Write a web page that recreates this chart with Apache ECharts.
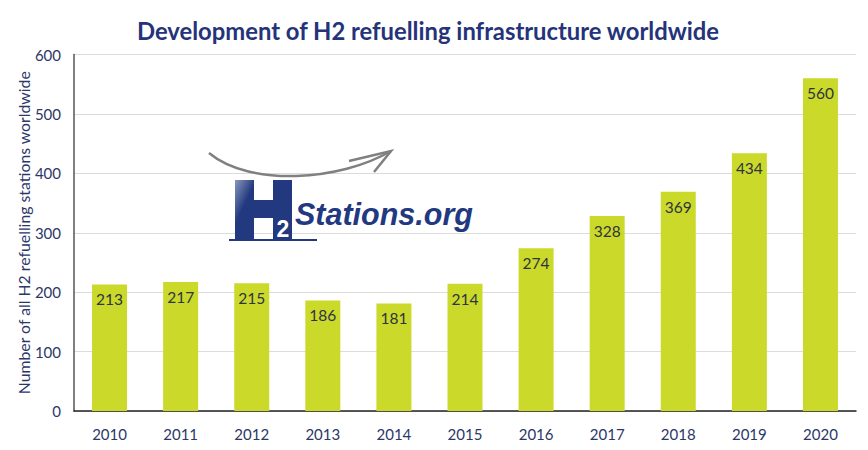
<!DOCTYPE html>
<html>
<head>
    <meta charset="utf-8">
    <title>H2 stations</title>
    <script src="https://cdn.jsdelivr.net/npm/echarts@6/dist/echarts.min.js"></script>
    <style>html,body{margin:0;padding:0;background:#fff}</style>
</head>
<body>
    <div id="chartmain" style="width:868px; height:450px;"></div>
    <script type="text/javascript">
        var years = ['2010', '2011', '2012', '2013', '2014', '2015', '2016', '2017', '2018', '2019', '2020'];
        var stations = [213, 217, 215, 186, 181, 214, 274, 328, 369, 434, 560];
        var titleText = 'Development of H2 refuelling infrastructure worldwide';
        var yAxisName = 'Number of all H2 refuelling stations worldwide';

        var navy = '#2b3768';
        var myChart = echarts.init(document.getElementById('chartmain'), null, { renderer: 'svg' });
        myChart.setOption({
            animation: false,
            textStyle: { fontFamily: 'Lato' },
            title: {
                text: titleText,
                left: 423,
                top: 14,
                textAlign: 'center',
                textStyle: { fontFamily: 'Lato', fontSize: 23.8, fontWeight: 'bold', color: '#25337a' }
            },
            grid: { left: 74, right: 12, top: 54.5, bottom: 39 },
            xAxis: {
                type: 'category',
                data: years,
                axisLine: { lineStyle: { color: '#222', width: 1.5 } },
                axisTick: { show: false },
                axisLabel: { color: navy, fontSize: 15, margin: 15 }
            },
            yAxis: {
                type: 'value',
                min: 0,
                max: 600,
                interval: 100,
                name: yAxisName,
                nameLocation: 'middle',
                nameGap: 43,
                nameMoveOverlap: false,
                nameTextStyle: { color: navy, fontSize: 15.8 },
                axisLine: { show: true, lineStyle: { color: '#555', width: 1.5 } },
                axisTick: { show: false },
                axisLabel: { color: navy, fontSize: 15, margin: 13 },
                splitLine: { lineStyle: { color: '#dcdcdc', width: 1 } }
            },
            series: [
                {
                    type: 'bar',
                    data: stations,
                    barWidth: 35,
                    itemStyle: { color: '#cbd92a' },
                    label: {
                        show: true,
                        position: 'insideTop',
                        distance: 7,
                        color: '#2e3440',
                        fontSize: 15.5
                    }
                }
            ],
            graphic: [
                // logo
                { type: 'polygon', z: 10, shape: { points: [[235, 180], [254, 180], [254, 200], [273, 200], [273, 180], [292, 180], [292, 240], [273, 240], [273, 218], [254, 218], [254, 240], [235, 240]] },
                  style: { fill: new echarts.graphic.LinearGradient(0, 0, 1, 0.5, [{ offset: 0, color: '#8a97bd' }, { offset: 0.3, color: '#22397f' }, { offset: 1, color: '#22397f' }]) } },
                { type: 'rect', z: 10, shape: { x: 229, y: 239, width: 88, height: 2 }, style: { fill: '#22397f' } },
                { type: 'rect', z: 10, shape: { x: 273, y: 218, width: 19, height: 21 }, style: { fill: '#22397f' } },
                { type: 'text', z: 11, x: 276.5, y: 217, style: { text: '2', fill: '#fff', fontFamily: 'Liberation Sans', fontWeight: 'bold', fontSize: 23 } },
                { type: 'text', z: 11, x: 295, y: 199, style: { text: 'Stations.org', fill: '#22397f', fontFamily: 'Liberation Sans', fontWeight: 'bold', fontStyle: 'italic', fontSize: 30.5 } },
                // arrow
                { type: 'bezierCurve', z: 9, shape: { x1: 209, y1: 153, x2: 391, y2: 151, cpx1: 250, cpy1: 187, cpx2: 340, cpy2: 181 },
                  style: { stroke: '#808080', fill: 'none', lineWidth: 2.5 } },
                { type: 'polyline', z: 9, shape: { points: [[349, 161], [391, 151], [374, 172]] }, style: { stroke: '#808080', fill: 'none', lineWidth: 2.5 } }
            ]
        });
    </script>
</body>
</html>
